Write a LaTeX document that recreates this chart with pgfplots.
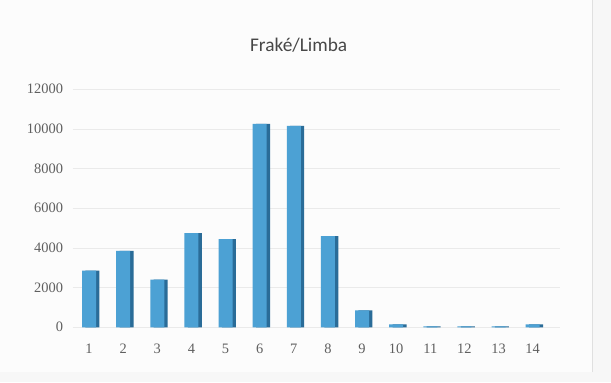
\documentclass[border=0pt]{standalone}
\usepackage{pgfplots}
\pgfplotsset{compat=1.18}
\usepackage{fontspec}
\setmainfont{Carlito}
\newfontfamily\tickfont{Liberation Serif}
\definecolor{barfront}{RGB}{76,161,212}
\definecolor{barside}{RGB}{42,108,152}
\definecolor{ticktext}{RGB}{95,95,95}
\definecolor{gridc}{RGB}{234,234,234}

\pgfplotstableread{
x y
1 2850
2 3850
3 2400
4 4750
5 4450
6 10250
7 10150
8 4600
9 850
10 150
11 50
12 50
13 50
14 150
}\frakedata

\begin{document}
\begin{tikzpicture}
% page frame: 611 x 382 px = 458.25pt x 286.5pt
\fill[white!97!black] (0pt,0pt) rectangle (458.25pt,286.5pt);
\fill[white!99!black] (0pt,7.5pt) rectangle (444pt,286.5pt);
\draw[white!88!black, line width=0.4pt] (444pt,7.5pt) -- (444pt,286.5pt);
\node[font=\fontsize{14.5}{16}\selectfont, text=black!72] at (224pt,252.5pt) {Fraké/Limba};
\begin{axis}[
    at={(54.75pt,41.25pt)}, anchor=south west,
    scale only axis,
    width=365.25pt, height=178.5pt,
    ymin=0, ymax=12000,
    xmin=0.53, xmax=14.8,
    ytick={0,2000,...,12000},
    xtick={1,...,14},
    ymajorgrids=true,
    grid style={gridc, line width=0.6pt},
    axis line style={draw=none},
    tick style={draw=none},
    ticklabel style={text=ticktext, font=\tickfont\fontsize{10.8}{12}\selectfont},
    /pgf/number format/assume math mode=true,
    /pgf/number format/1000 sep={},
    scaled y ticks=false,
    yticklabel style={xshift=-4pt},
    xticklabel style={yshift=-5pt},
    ybar, bar width=0.41,
    clip=false,
]
\addplot[fill=barside, draw=none, bar shift=0.1] table[x=x, y=y] {\frakedata};
\addplot[fill=barfront, draw=none, bar shift=0] table[x=x, y=y] {\frakedata};
\end{axis}
\end{tikzpicture}
\end{document}
